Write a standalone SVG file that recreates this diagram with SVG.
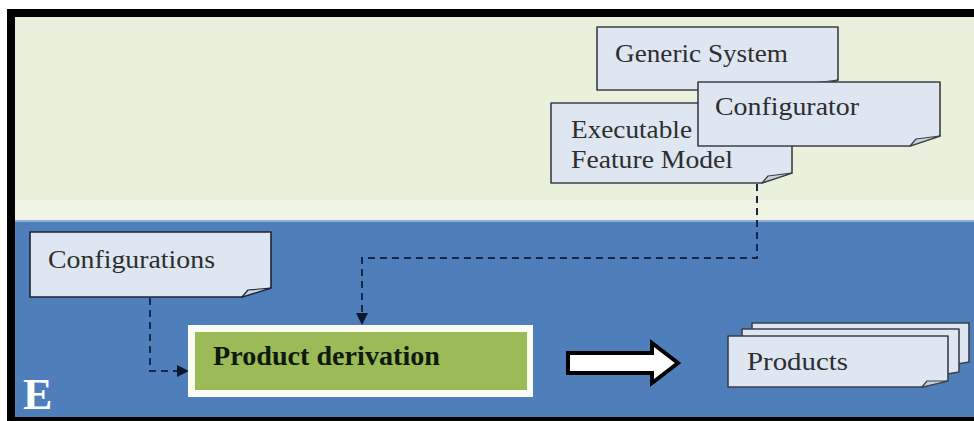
<svg xmlns="http://www.w3.org/2000/svg" width="974" height="421" viewBox="0 0 974 421">
  <style>
    .note { fill: #dde6f1; stroke: #3c3f46; stroke-width: 1.6; stroke-linejoin: round; }
    .fold { fill: #c9d3e0; stroke: #3c3f46; stroke-width: 1.2; stroke-linejoin: round; }
    .lbl { font-family: "Liberation Serif", "DejaVu Serif", serif; font-size: 26px; fill: #2e2e2e; }
    .dash { fill: none; stroke: #14284a; stroke-width: 2; stroke-dasharray: 7 5; }
  </style>

  <!-- background bands -->
  <rect x="0" y="0" width="974" height="421" fill="#ffffff"/>
  <rect x="15" y="17" width="959" height="203" fill="#e9f0dc"/>
  <rect x="15" y="200" width="959" height="20" fill="#eef3e3"/>
  <rect x="15" y="220" width="959" height="197" fill="#4f7fbb"/>
  <rect x="15" y="220" width="959" height="2" fill="#8fb0d6"/>

  <!-- frame -->
  <rect x="7" y="9" width="967" height="8" fill="#000000"/>
  <rect x="7" y="9" width="8" height="412" fill="#000000"/>
  <rect x="7" y="417" width="967" height="4" fill="#000000"/>

  <!-- logo -->
  <text x="23" y="409" font-family="Liberation Serif, serif" font-weight="bold" font-size="44" fill="#ffffff">E</text>

  <!-- connectors -->
  <g id="connectors">
    <path class="dash" d="M757,184 V258 H362 V316" />
    <path d="M356,313 L368,313 L362,325 Z" fill="#0c1830"/>
    <path class="dash" d="M150,298 V371 H178" />
    <path d="M177,365 L189,371 L177,377 Z" fill="#0c1830"/>
    <!-- block arrow -->
    <path d="M568,353 H652 V343 L678,363 L652,383 V373 H568 Z" fill="#ffffff" stroke="#000000" stroke-width="4" stroke-linejoin="miter"/>
  </g>

  <!-- notes -->
  <g id="generic-system">
    <path class="note" d="M597,27 H838 V80 L808,90 H597 Z"/>
    <path class="fold" d="M808,90 L814,83 L838,80 Z"/>
    <text class="lbl" x="615" y="62" textLength="173" lengthAdjust="spacingAndGlyphs">Generic System</text>
  </g>

  <g id="executable-feature-model">
    <path class="note" d="M551,103 H792 V173 L762,183 H551 Z"/>
    <path class="fold" d="M762,183 L768,176 L792,173 Z"/>
    <text class="lbl" x="571" y="138" textLength="121" lengthAdjust="spacingAndGlyphs">Executable</text>
    <text class="lbl" x="571" y="168" textLength="162" lengthAdjust="spacingAndGlyphs">Feature Model</text>
  </g>

  <g id="configurator">
    <path class="note" d="M698,82 H940 V136 L910,146 H698 Z"/>
    <path class="fold" d="M910,146 L916,139 L940,136 Z"/>
    <text class="lbl" x="715" y="115" textLength="144" lengthAdjust="spacingAndGlyphs">Configurator</text>
  </g>

  <g id="configurations">
    <path class="note" d="M30,232 H271 V288 L242,297 H30 Z" style="stroke:#1c2433"/>
    <path class="fold" d="M242,297 L248,290 L271,288 Z" style="stroke:#1c2433"/>
    <text class="lbl" x="48" y="268" textLength="167" lengthAdjust="spacingAndGlyphs">Configurations</text>
  </g>

  <g id="product-derivation">
    <rect x="188" y="325" width="345" height="72" fill="#fafcf4"/>
    <rect x="195" y="332" width="332" height="58" fill="#9bbb59"/>
    <text x="213" y="365" font-family="Liberation Serif, serif" font-weight="bold" font-size="27" fill="#101a0c" textLength="227" lengthAdjust="spacingAndGlyphs">Product derivation</text>
  </g>

  <g id="products">
    <path class="note" d="M752,323 H969 V362 L940,367 H752 Z"/>
    <path class="note" d="M742,329 H959 V372 L930,377 H742 Z"/>
    <path class="note" d="M728,336 H948 V381 L922,387 H728 Z"/>
    <path class="fold" d="M922,387 L927,381 L948,381 Z"/>
    <text class="lbl" x="747" y="370" textLength="101" lengthAdjust="spacingAndGlyphs">Products</text>
  </g>
</svg>
